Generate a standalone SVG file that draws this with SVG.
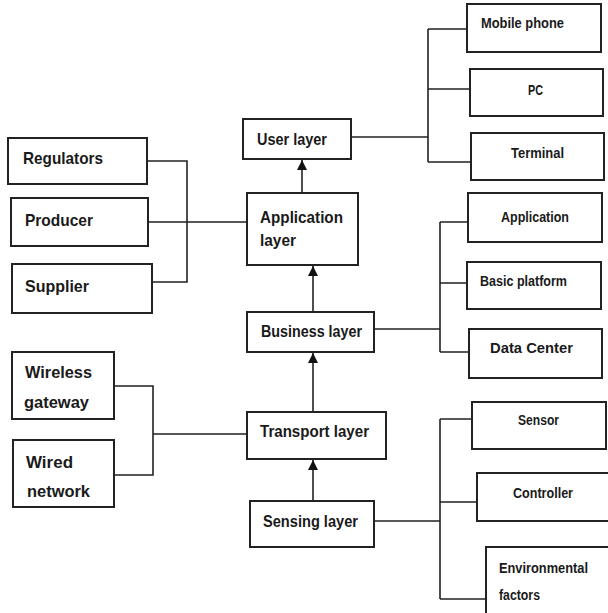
<svg xmlns="http://www.w3.org/2000/svg" width="608" height="613" viewBox="0 0 608 613">
<defs>
<style>
.box{fill:#fff;stroke:#222;stroke-width:2}
.t{font-family:"Liberation Sans",Arial,sans-serif;font-weight:bold;font-size:17px;fill:#1a1a1a}
.s{font-family:"Liberation Sans",Arial,sans-serif;font-weight:bold;font-size:14px;fill:#1a1a1a}
.ln{fill:none;stroke:#222;stroke-width:1.6}
</style>
<marker id="arr" viewBox="0 0 10 12" refX="10" refY="6" markerWidth="10" markerHeight="12" markerUnits="userSpaceOnUse" orient="auto">
<path d="M0,1 L10,6 L0,11 Z" fill="#111"/>
</marker>
</defs>
<rect width="608" height="613" fill="#fff"/>
<g id="connectors">
<line class="ln" x1="302" y1="193" x2="302" y2="160" marker-end="url(#arr)"/>
<line class="ln" x1="313" y1="312" x2="313" y2="266" marker-end="url(#arr)"/>
<line class="ln" x1="313" y1="412" x2="313" y2="353" marker-end="url(#arr)"/>
<line class="ln" x1="313" y1="501" x2="313" y2="460" marker-end="url(#arr)"/>
<path class="ln" d="M351,137 H428 M428,29 V162 M428,29 H467 M428,89 H470 M428,162 H471"/>
<path class="ln" d="M147,161 H187 V282 H152 M148,222 H247"/>
<path class="ln" d="M374,329 H440 M440,222 V352 M440,222 H468 M440,283 H467 M440,352 H469"/>
<path class="ln" d="M114,386 H153 V475 H114 M153,434 H247"/>
<path class="ln" d="M374,521 H440 M440,419 V599 M440,419 H472 M440,502 H477 M440,599 H486"/>
</g>
<g id="user-layer"><rect class="box" x="243" y="119" width="108" height="40"/><text class="t" x="257" y="145" textLength="70" lengthAdjust="spacingAndGlyphs">User layer</text></g>
<g id="application-layer"><rect class="box" x="247" y="193" width="111" height="72"/><text class="t" x="260" y="223" textLength="83" lengthAdjust="spacingAndGlyphs">Application</text><text class="t" x="260" y="246" textLength="36" lengthAdjust="spacingAndGlyphs">layer</text></g>
<g id="business-layer"><rect class="box" x="247" y="312" width="127" height="40"/><text class="t" x="261" y="337" textLength="101" lengthAdjust="spacingAndGlyphs">Business layer</text></g>
<g id="transport-layer"><rect class="box" x="247" y="412" width="139" height="47"/><text class="t" x="260" y="437" textLength="109" lengthAdjust="spacingAndGlyphs">Transport layer</text></g>
<g id="sensing-layer"><rect class="box" x="250" y="501" width="124" height="46"/><text class="t" x="263" y="527" textLength="95" lengthAdjust="spacingAndGlyphs">Sensing layer</text></g>
<g id="regulators"><rect class="box" x="8" y="138" width="139" height="46"/><text class="t" x="23" y="164" textLength="80" lengthAdjust="spacingAndGlyphs">Regulators</text></g>
<g id="producer"><rect class="box" x="11" y="198" width="137" height="48"/><text class="t" x="25" y="226" textLength="68" lengthAdjust="spacingAndGlyphs">Producer</text></g>
<g id="supplier"><rect class="box" x="12" y="264" width="140" height="49"/><text class="t" x="25" y="292" textLength="64" lengthAdjust="spacingAndGlyphs">Supplier</text></g>
<g id="wireless-gateway"><rect class="box" x="12" y="352" width="102" height="67"/><text class="t" x="25" y="378" textLength="67" lengthAdjust="spacingAndGlyphs">Wireless</text><text class="t" x="24" y="408" textLength="65" lengthAdjust="spacingAndGlyphs">gateway</text></g>
<g id="wired-network"><rect class="box" x="13" y="440" width="101" height="67"/><text class="t" x="26" y="468" textLength="47" lengthAdjust="spacingAndGlyphs">Wired</text><text class="t" x="27" y="497" textLength="63" lengthAdjust="spacingAndGlyphs">network</text></g>
<g id="mobile-phone"><rect class="box" x="467" y="4" width="134" height="48"/><text class="s" x="481" y="28" textLength="83" lengthAdjust="spacingAndGlyphs">Mobile phone</text></g>
<g id="pc"><rect class="box" x="470" y="69" width="133" height="47"/><text class="s" x="528" y="95" textLength="15" lengthAdjust="spacingAndGlyphs">PC</text></g>
<g id="terminal"><rect class="box" x="471" y="133" width="133" height="47"/><text class="s" x="511" y="158" textLength="53" lengthAdjust="spacingAndGlyphs">Terminal</text></g>
<g id="application"><rect class="box" x="468" y="193" width="134" height="49"/><text class="s" x="501" y="222" textLength="68" lengthAdjust="spacingAndGlyphs">Application</text></g>
<g id="basic-platform"><rect class="box" x="467" y="262" width="134" height="47"/><text class="s" x="480" y="286" textLength="87" lengthAdjust="spacingAndGlyphs">Basic platform</text></g>
<g id="data-center"><rect class="box" x="469" y="329" width="133" height="49"/><text class="s" x="490" y="353" textLength="83" lengthAdjust="spacingAndGlyphs">Data Center</text></g>
<g id="sensor"><rect class="box" x="472" y="402" width="134" height="47"/><text class="s" x="518" y="425" textLength="41" lengthAdjust="spacingAndGlyphs">Sensor</text></g>
<g id="controller"><rect class="box" x="477" y="473" width="140" height="48"/><text class="s" x="513" y="498" textLength="60" lengthAdjust="spacingAndGlyphs">Controller</text></g>
<g id="environmental-factors"><rect class="box" x="486" y="547" width="140" height="80"/><text class="s" x="499" y="573" textLength="89" lengthAdjust="spacingAndGlyphs">Environmental</text><text class="s" x="499" y="600" textLength="41" lengthAdjust="spacingAndGlyphs">factors</text></g>
</svg>
